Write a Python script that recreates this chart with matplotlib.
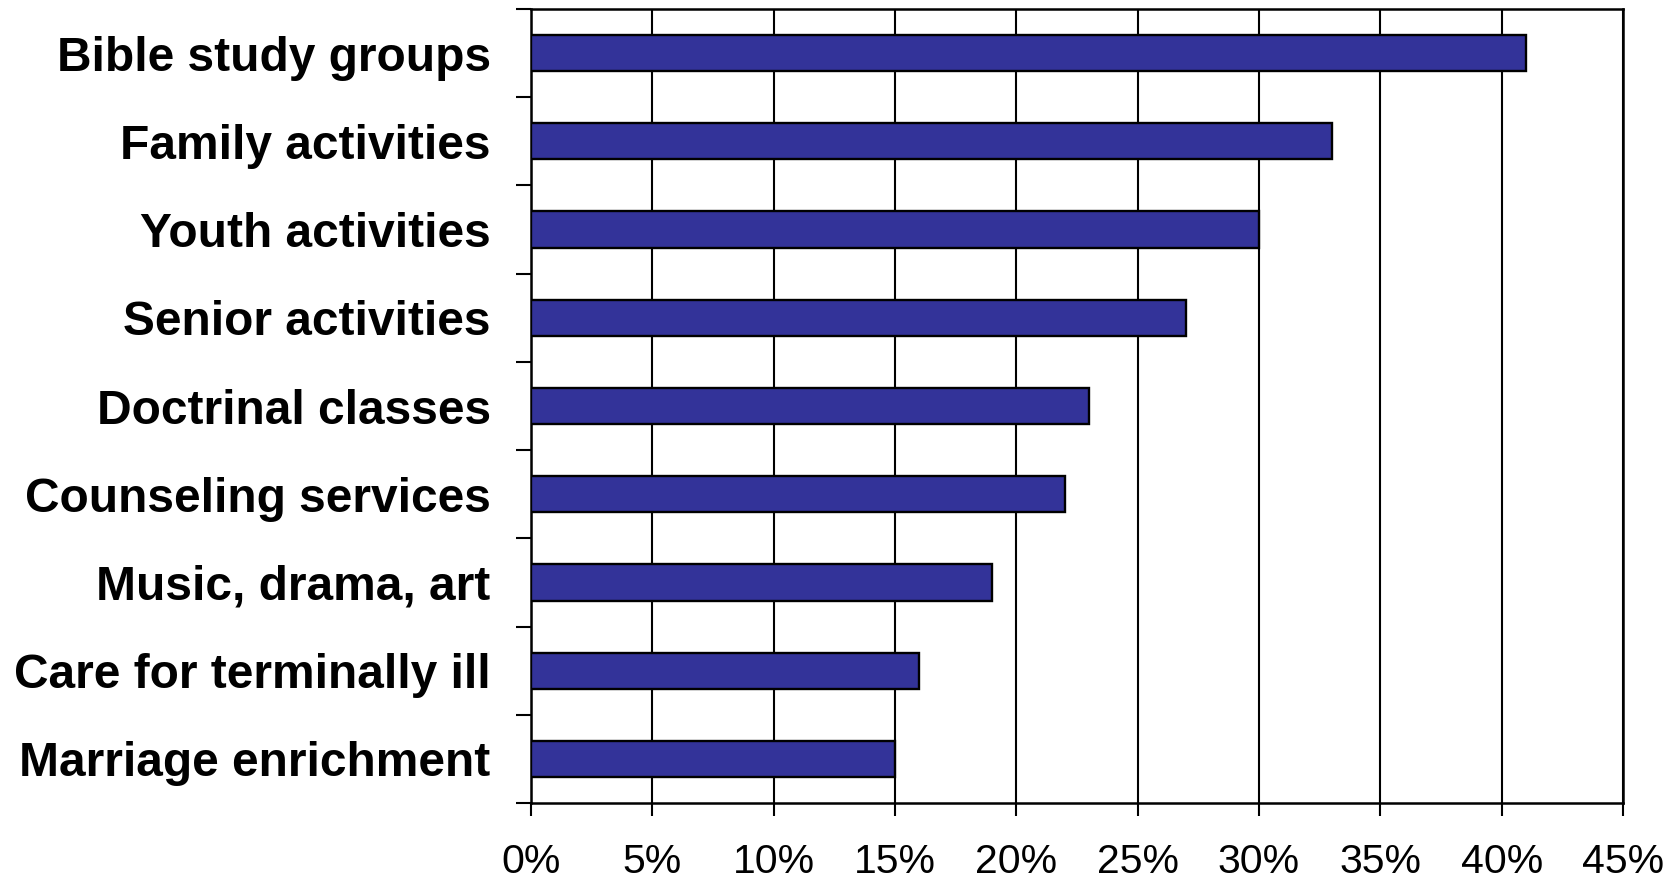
import numpy as np
import matplotlib.pyplot as plt
from matplotlib.ticker import FixedLocator, FuncFormatter

plt.rcParams['font.family'] = ['Liberation Sans', 'DejaVu Sans']

# church programs, share of respondents (%)
programs = [
    'Bible study groups',
    'Family activities',
    'Youth activities',
    'Senior activities',
    'Doctrinal classes',
    'Counseling services',
    'Music, drama, art',
    'Care for terminally ill',
    'Marriage enrichment',
]
shares = [41, 33, 30, 27, 23, 22, 19, 16, 15]
x_ticks = [0, 5, 10, 15, 20, 25, 30, 35, 40, 45]

W, H = 1677, 880
fig = plt.figure(figsize=(W / 100, H / 100), dpi=100)
ax = fig.add_axes([531 / W, (H - 803) / H, 1092 / W, 794 / H])

pos = np.arange(len(programs))
ax.barh(pos, shares, height=0.41, color='#333399', edgecolor='black',
        linewidth=1.7, zorder=3)

ax.set_xlim(0, 45)
ax.set_ylim(len(programs) - 0.5, -0.5)

# vertical gridlines at every 5%
ax.set_xticks(x_ticks)
ax.xaxis.set_major_formatter(FuncFormatter(lambda v, _: f'{v:.0f}%'))
ax.grid(axis='x', color='black', linewidth=1.5, zorder=1)
ax.tick_params(axis='x', direction='out', length=9, width=1.5,
               labelsize=29.5, pad=20)

# tick marks between categories, labels centred on the bars
ax.yaxis.set_major_locator(FixedLocator(np.arange(-0.5, len(programs), 1.0)))
ax.yaxis.set_major_formatter(FuncFormatter(lambda v, _: ''))
ax.yaxis.set_minor_locator(FixedLocator(pos))
ax.set_yticklabels(programs, minor=True, fontsize=34.5, fontweight='bold')
ax.tick_params(axis='y', which='major', direction='out', length=11, width=1.5)
ax.tick_params(axis='y', which='minor', length=0, pad=18 + 11)

for s in ax.spines.values():
    s.set_linewidth(1.8)
    s.set_color('black')

fig.savefig('out.png', dpi=100, facecolor='white')
